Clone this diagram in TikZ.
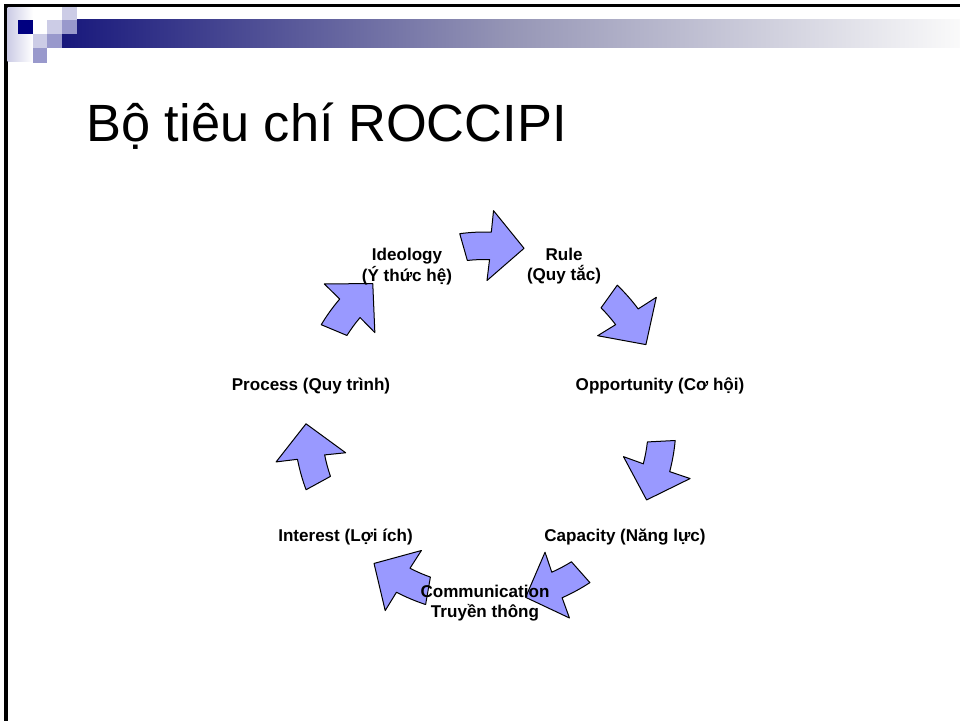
\documentclass[tikz,border=0pt]{standalone}
\usepackage{fontspec}
\setmainfont{Liberation Sans}
\definecolor{cyclefill}{RGB}{153, 153, 255}
\definecolor{navy1}{RGB}{0, 0, 128}
\definecolor{barnavy}{RGB}{24, 24, 124}
\definecolor{barmid}{RGB}{150, 150, 182}
\definecolor{lavlight}{RGB}{204, 204, 230}
\definecolor{lavmid}{RGB}{153, 153, 204}
\usepackage{tikz}
\usetikzlibrary{positioning, calc}
\pgfdeclarehorizontalshading{barshade}{100bp}{color(0bp)=(barnavy); color(25bp)=(barnavy); color(50bp)=(barmid); color(75bp)=(white!98!black); color(100bp)=(white!98!black)}

\begin{document}
\begin{tikzpicture}[x=0.75pt, y=0.75pt,
  cyclelabel/.style={font=\bfseries\fontsize{12.8}{15.5}\selectfont, align=center, inner sep=0pt},
  cyclearrow/.style={draw=black, fill=cyclefill, line width=0.75pt, line join=round}]
  \useasboundingbox (0,0) rectangle (960,721);
  \fill[white] (0,0) rectangle (960,721);

  % slide frame
  \fill[black] (4,717) rectangle (960,713.5);
  \fill[black] (4,717) rectangle (7.5,0);

  % corner blocks and title bar
  \shade[left color=lavlight, right color=white] (7.5,713.5) rectangle (33,659);
  \shade[shading=barshade] (62,701) rectangle (960,673);
  \fill[navy1] (18,701) rectangle (33,687);
  \fill[lavlight] (33,687) rectangle (47,673);
  \fill[lavmid] (33,673) rectangle (47,658);
  \fill[lavlight] (47,701) rectangle (62,687);
  \fill[lavmid] (47,687) rectangle (62,673);
  \fill[lavlight] (62,713.5) rectangle (77,701);
  \fill[lavmid] (62,701) rectangle (77,687);

  \node[anchor=base west, inner sep=0pt, font=\fontsize{39.3}{47}\selectfont] (title) at (86,579) {Bộ tiêu chí ROCCIPI};

  % cycle arrows
  \coordinate (ctr) at (485,298);
  \foreach \k in {0,...,6}{
    \pgfmathsetmacro{\ang}{90-\k*360/7}
    \draw[cyclearrow] ($(ctr)+(\ang+7.6:191)$) arc[start angle=\ang+7.6, end angle=\ang-1.9, radius=191]
      -- ($(ctr)+(\ang-2.3:212.5)$) -- ($(ctr)+(\ang-12.6:179)$) -- ($(ctr)+(\ang-0.8:142.5)$)
      -- ($(ctr)+(\ang-1.6:163.5)$) arc[start angle=\ang-1.6, end angle=\ang+6.2, radius=163.5] -- cycle;
  }

  \node[cyclelabel] (ideology) at (407,454.5) {Ideology\\(Ý thức hệ)};
  \node[cyclelabel] (rule) at (564,455) {Rule\\(Quy tắc)};
  \node[cyclelabel] (opportunity) at (660,335) {Opportunity (Cơ hội)};
  \node[cyclelabel] (capacity) at (625,184) {Capacity (Năng lực)};
  \node[cyclelabel] (communication) at (485,118) {Communication\\Truyền thông};
  \node[cyclelabel] (interest) at (345.5,184) {Interest (Lợi ích)};
  \node[cyclelabel] (process) at (311,335) {Process (Quy trình)};
\end{tikzpicture}
\end{document}
